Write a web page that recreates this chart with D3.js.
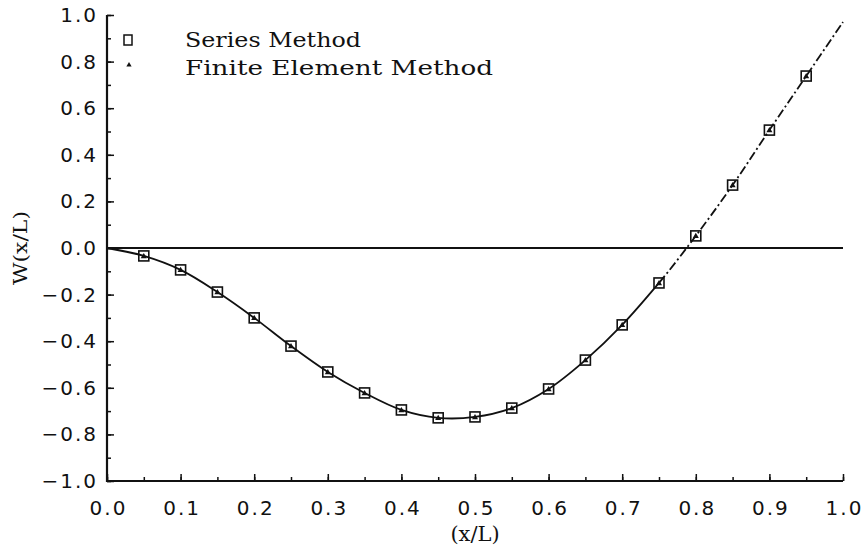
<!DOCTYPE html>
<html>
<head>
<meta charset="utf-8">
<script src="https://cdn.jsdelivr.net/npm/d3@7"></script>
<style>
  html, body { margin: 0; padding: 0; background: #fff; }
  svg { display: block; }
</style>
</head>
<body>
<svg id="chart" width="864" height="551"></svg>
<script>
// Deflection W(x/L) along the beam
const xPos = [0.05, 0.10, 0.15, 0.20, 0.25, 0.30, 0.35, 0.40, 0.45, 0.50,
              0.55, 0.60, 0.65, 0.70, 0.75, 0.80, 0.85, 0.90, 0.95];
const seriesMethod = [-0.034, -0.094, -0.189, -0.300, -0.421, -0.532, -0.622, -0.695, -0.729, -0.725,
                      -0.687, -0.605, -0.481, -0.330, -0.150, 0.052, 0.270, 0.506, 0.738];
const finiteElement = [-0.036, -0.096, -0.191, -0.302, -0.423, -0.534, -0.624, -0.697, -0.731, -0.727,
                       -0.689, -0.607, -0.483, -0.332, -0.152, 0.050, 0.268, 0.504, 0.736];
// Continuous curve end points
const curveStart = [0.0, 0.0];
const curveEnd = [1.0, 0.97];
const dashFrom = 0.75;

const xTicks = [0, 0.1, 0.2, 0.3, 0.4, 0.5, 0.6, 0.7, 0.8, 0.9, 1.0];
const yTicks = [-1.0, -0.8, -0.6, -0.4, -0.2, 0.0, 0.2, 0.4, 0.6, 0.8, 1.0];
const legendLabels = ["Series Method", "Finite Element Method"];

const svg = d3.select("#chart");
const x = d3.scaleLinear().domain([0, 1]).range([107, 843]);
const y = d3.scaleLinear().domain([-1, 1]).range([481, 15]);

const ink = "#111";
const tickFont = "'DejaVu Sans', sans-serif";
const serifFont = "'DejaVu Serif', 'Liberation Serif', serif";

// Zero reference line
svg.append("line")
  .attr("x1", x(0)).attr("x2", x(1))
  .attr("y1", y(0)).attr("y2", y(0))
  .attr("stroke", ink).attr("stroke-width", 1.8);

// Axes with inward ticks (major + minor)
const fmt = d => (d < 0 ? "\u2212" : "") + Math.abs(d).toFixed(1);

const xMinor = d3.range(0, 1.0001, 0.05);
svg.append("g")
  .attr("transform", `translate(0,${y(-1)})`)
  .call(d3.axisBottom(x).tickValues(xMinor).tickSize(-4).tickFormat(""))
  .call(g => g.select(".domain").remove())
  .call(g => g.selectAll("line").attr("stroke", ink).attr("stroke-width", 1.5));
svg.append("g")
  .attr("transform", `translate(0,${y(-1)})`)
  .call(d3.axisBottom(x).tickValues(xTicks).tickSize(-7).tickPadding(26).tickFormat(fmt))
  .call(g => g.select(".domain").remove())
  .call(g => g.selectAll("line").attr("stroke", ink).attr("stroke-width", 1.5))
  .call(g => g.selectAll("text")
    .attr("fill", ink).attr("font-family", tickFont).attr("font-size", 20)
    .attr("letter-spacing", 2).attr("dx", 1).attr("dy", "0.4em"));

const yMinor = d3.range(-1, 1.0001, 0.1);
svg.append("g")
  .attr("transform", `translate(${x(0)},0)`)
  .call(d3.axisLeft(y).tickValues(yMinor).tickSize(-4).tickFormat(""))
  .call(g => g.select(".domain").remove())
  .call(g => g.selectAll("line").attr("stroke", ink).attr("stroke-width", 1.5));
svg.append("g")
  .attr("transform", `translate(${x(0)},0)`)
  .call(d3.axisLeft(y).tickValues(yTicks).tickSize(-7).tickPadding(9).tickFormat(fmt))
  .call(g => g.select(".domain").remove())
  .call(g => g.selectAll("line").attr("stroke", ink).attr("stroke-width", 1.5))
  .call(g => g.selectAll("text")
    .attr("fill", ink).attr("font-family", tickFont).attr("font-size", 20)
    .attr("letter-spacing", 2));

// Axis lines
svg.append("path")
  .attr("d", `M${x(0)},${y(1)}V${y(-1)}H${x(1)}`)
  .attr("fill", "none").attr("stroke", ink).attr("stroke-width", 2.2);

// Axis titles
svg.append("text")
  .attr("x", x(0.5)).attr("y", 541)
  .attr("text-anchor", "middle")
  .attr("font-family", serifFont).attr("font-size", 21).attr("fill", ink)
  .text("(x/L)");
svg.append("text")
  .attr("transform", `translate(27,${y(0)}) rotate(-90)`)
  .attr("text-anchor", "middle")
  .attr("font-family", serifFont).attr("font-size", 19).attr("fill", ink)
  .attr("textLength", 74).attr("lengthAdjust", "spacingAndGlyphs")
  .text("W(x/L)");

// Continuous curve through the series solution
const pts = [curveStart, ...xPos.map((d, i) => [d, seriesMethod[i]]), curveEnd];
const line = d3.line().x(d => x(d[0])).y(d => y(d[1])).curve(d3.curveCatmullRom.alpha(0.5));
const solidPts = pts.filter(d => d[0] <= dashFrom);
svg.append("path").attr("d", line(solidPts))
  .attr("fill", "none").attr("stroke", ink).attr("stroke-width", 1.8);

// Dash-dot segment from dashFrom onwards, continuing the same spline
const fullPath = svg.append("path").attr("d", line(pts)).attr("fill", "none").attr("stroke", "none");
const node = fullPath.node();
const total = node.getTotalLength();
let lo = 0, hi = total;
for (let k = 0; k < 40; k++) {
  const mid = (lo + hi) / 2;
  if (node.getPointAtLength(mid).x < x(dashFrom)) lo = mid; else hi = mid;
}
const dashStart = lo;
fullPath.remove();
const pattern = [9, 3, 2, 3];
const patLen = d3.sum(pattern);
svg.append("path").attr("d", line(pts))
  .attr("fill", "none").attr("stroke", ink).attr("stroke-width", 1.8)
  .attr("stroke-dasharray", `0,${dashStart},${d3.range(Math.ceil((total - dashStart) / patLen) + 1).map(() => pattern.join(",")).join(",")}`);

// Series Method markers (open squares)
const sq = 10;
svg.append("g").selectAll("rect").data(xPos).join("rect")
  .attr("x", d => x(d) - sq / 2)
  .attr("y", (d, i) => y(seriesMethod[i]) - sq / 2)
  .attr("width", sq).attr("height", sq)
  .attr("fill", "none").attr("stroke", ink).attr("stroke-width", 1.6);

// Finite Element markers (small triangles)
const tri = d3.symbol().type(d3.symbolTriangle).size(16);
svg.append("g").selectAll("path").data(xPos).join("path")
  .attr("transform", (d, i) => `translate(${x(d)},${y(finiteElement[i])})`)
  .attr("d", tri)
  .attr("fill", ink);

// Legend
const legend = svg.append("g");
legend.append("rect")
  .attr("x", 124).attr("y", 35).attr("width", 8).attr("height", 10)
  .attr("fill", "none").attr("stroke", ink).attr("stroke-width", 1.5);
legend.append("path")
  .attr("transform", "translate(129,65)")
  .attr("d", d3.symbol().type(d3.symbolTriangle).size(12))
  .attr("fill", ink);
legend.append("text")
  .attr("x", 185).attr("y", 47)
  .attr("font-family", serifFont).attr("font-size", 20).attr("fill", ink)
  .attr("textLength", 176).attr("lengthAdjust", "spacingAndGlyphs")
  .text(legendLabels[0]);
legend.append("text")
  .attr("x", 185).attr("y", 75)
  .attr("font-family", serifFont).attr("font-size", 20).attr("fill", ink)
  .attr("textLength", 308).attr("lengthAdjust", "spacingAndGlyphs")
  .text(legendLabels[1]);
</script>
</body>
</html>
